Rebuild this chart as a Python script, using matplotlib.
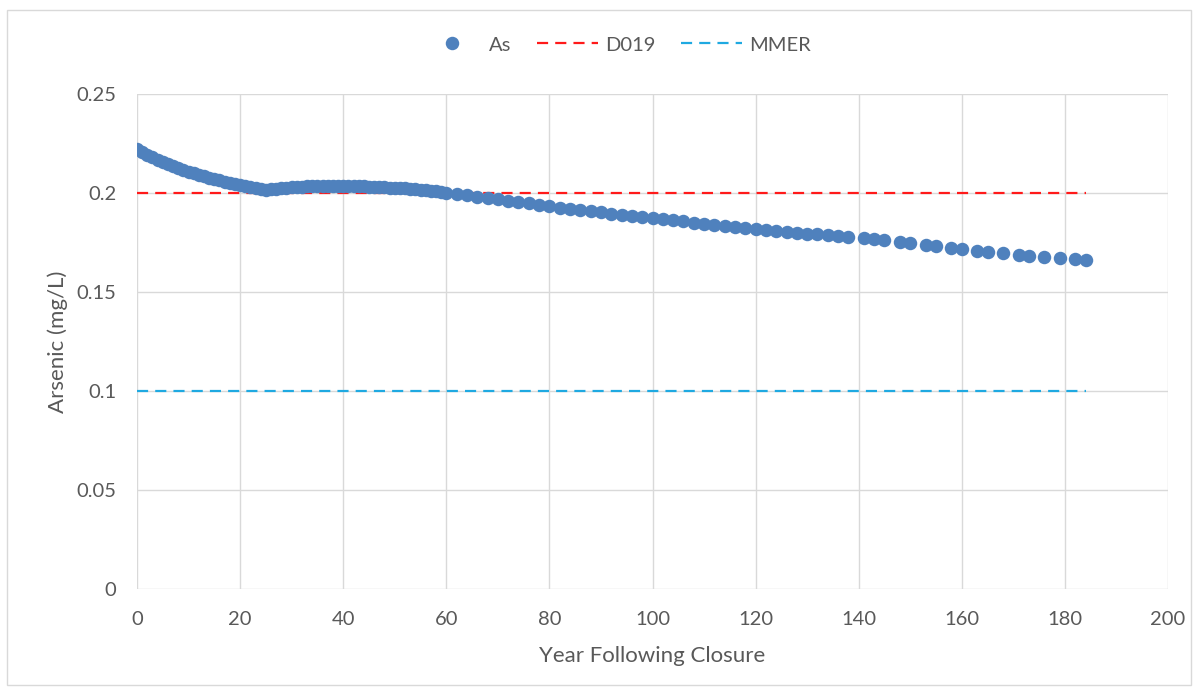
import matplotlib
matplotlib.use("Agg")
import matplotlib.pyplot as plt
from matplotlib.ticker import FuncFormatter, MultipleLocator
from matplotlib.patches import Rectangle

# ---- data ----
years = [0, 1, 2, 3, 4, 5, 6, 7, 8, 9, 10, 11, 12, 13, 14, 15, 16, 17, 18, 19,
         20, 21, 22, 23, 24, 25, 26, 27, 28, 29, 30, 31, 32, 33, 34, 35, 36, 37, 38, 39,
         40, 41, 42, 43, 44, 45, 46, 47, 48, 49, 50, 51, 52, 53, 54, 55, 56, 57, 58, 59,
         60, 62, 64, 66, 68, 70, 72, 74, 76, 78, 80, 82, 84, 86, 88, 90, 92, 94, 96, 98,
         100, 102, 104, 106, 108, 110, 112, 114, 116, 118, 120, 122, 124, 126, 128, 130,
         132, 134, 136, 138, 141, 143, 145, 148, 150, 153, 155, 158, 160, 163, 165, 168,
         171, 173, 176, 179, 182, 184]
arsenic = [0.2222, 0.2205, 0.2192, 0.2180, 0.2168, 0.2157, 0.2146, 0.2136, 0.2126, 0.2116,
           0.2106, 0.2099, 0.2092, 0.2085, 0.2078, 0.2071, 0.2065, 0.2058, 0.2052, 0.2046,
           0.2040, 0.2035, 0.2029, 0.2024, 0.2019, 0.2014, 0.2018, 0.2021, 0.2024, 0.2026,
           0.2028, 0.2030, 0.2032, 0.2033, 0.2034, 0.2035, 0.2036, 0.2036, 0.2037, 0.2037,
           0.2037, 0.2036, 0.2035, 0.2034, 0.2033, 0.2032, 0.2031, 0.2030, 0.2029, 0.2027,
           0.2026, 0.2024, 0.2023, 0.2021, 0.2019, 0.2017, 0.2015, 0.2012, 0.2009, 0.2006,
           0.2002, 0.1995, 0.1988, 0.1981, 0.1975, 0.1968, 0.1961, 0.1954, 0.1947, 0.1939,
           0.1932, 0.1926, 0.1920, 0.1914, 0.1908, 0.1902, 0.1896, 0.1891, 0.1885, 0.1880,
           0.1874, 0.1868, 0.1862, 0.1857, 0.1851, 0.1845, 0.1839, 0.1834, 0.1828, 0.1823,
           0.1817, 0.1813, 0.1808, 0.1804, 0.1799, 0.1795, 0.1791, 0.1787, 0.1783, 0.1779,
           0.1772, 0.1767, 0.1762, 0.1752, 0.1746, 0.1737, 0.1731, 0.1722, 0.1716, 0.1709,
           0.1703, 0.1695, 0.1688, 0.1684, 0.1679, 0.1673, 0.1666, 0.1662]
guide_x = [0, 184]
d019_limit = 0.2
mmer_limit = 0.1
series_labels = ["As", "D019", "MMER"]
x_label = "Year Following Closure"
y_label = "Arsenic (mg/L)"

# ---- styling ----
plt.rcParams['font.family'] = ['Lato', 'DejaVu Sans']
text_grey = '#595959'
grid_grey = '#D9D9D9'

fig = plt.figure(figsize=(11.98, 6.91), dpi=100)
fig.patch.set_facecolor('white')
fig.patches.append(Rectangle((7 / 1198, 6 / 691), 1 - 14 / 1198, 1 - 16 / 691,
                             transform=fig.transFigure, fill=False,
                             edgecolor='#D9D9D9', linewidth=1.0))

ax = fig.add_axes([137 / 1198, 1 - 589 / 691, (1168 - 137) / 1198, (589 - 94) / 691])

ax.plot(years, arsenic, linestyle='none', marker='o', markersize=9.7,
        color='#4F81BD', markeredgewidth=0, label=series_labels[0], zorder=3)
ax.plot(guide_x, [d019_limit] * 2, color='#FF1A1A', linewidth=1.6,
        dashes=(5, 3.2), label=series_labels[1], zorder=2)
ax.plot(guide_x, [mmer_limit] * 2, color='#1FA9E1', linewidth=1.6,
        dashes=(5, 3.2), label=series_labels[2], zorder=2)

ax.set_xlim(0, 200)
ax.set_ylim(0, 0.25)
ax.xaxis.set_major_locator(MultipleLocator(20))
ax.yaxis.set_major_locator(MultipleLocator(0.05))


def yfmt(v, pos):
    s = f"{v:.2f}".rstrip('0').rstrip('.')
    return s


ax.yaxis.set_major_formatter(FuncFormatter(yfmt))
ax.grid(True, color=grid_grey, linewidth=1.0, zorder=0)
ax.set_axisbelow(True)
for s in ax.spines.values():
    s.set_visible(False)
ax.tick_params(axis='both', length=0, labelsize=14.5, colors=text_grey)
ax.tick_params(axis='y', pad=15)
ax.tick_params(axis='x', pad=16)

ax.set_xlabel(x_label, fontsize=16, color=text_grey, labelpad=13)
ax.set_ylabel(y_label, fontsize=16, color=text_grey, labelpad=6)

leg = fig.legend(loc='center', bbox_to_anchor=(616 / 1198, 1 - 45 / 691), ncol=3,
                 frameon=False, fontsize=14.5, handlelength=3.0, columnspacing=1.3,
                 handletextpad=0.35)
for t in leg.get_texts():
    t.set_color(text_grey)

fig.savefig('out.png', dpi=100, facecolor='white')
